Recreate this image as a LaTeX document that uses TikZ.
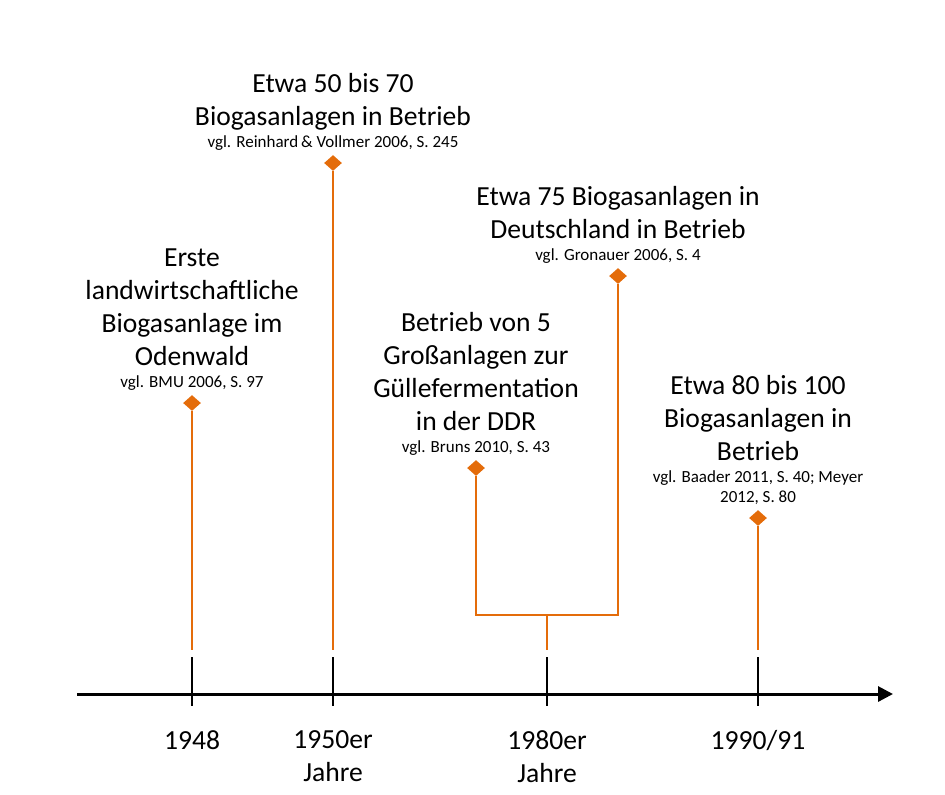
\documentclass[tikz,border=0pt]{standalone}
\usepackage{fontspec}
\setmainfont{Carlito}
\usetikzlibrary{positioning,shapes.geometric,arrows.meta}
\definecolor{gasorange}{RGB}{228,108,10}
\tikzset{
  dia/.style={diamond,fill=gasorange,inner sep=0pt,minimum width=9pt,minimum height=8pt},
  stem/.style={draw=gasorange,line width=1.2pt},
  txt/.style={align=center,inner sep=0pt,text depth=0pt,font=\fontsize{13.8}{16.5}\selectfont},
  src/.style={align=center,inner sep=0pt,text depth=0pt,font=\fontsize{8.5}{10}\selectfont},
}

\begin{document}
\begin{tikzpicture}[x=0.5pt,y=-0.5pt]
  \useasboundingbox (0,0) rectangle (945,794);
  % time axis
  \coordinate (A-0) at (77,694);
  \coordinate (A-1) at (893,694);
  \draw[line width=1.5pt,-{Triangle[length=7.5pt,width=7.5pt]}] (A-0) -- (A-1);
  \foreach \x/\n in {192/1,333/2,547/3,758/4}{
      \coordinate (T-\n) at (\x,657);
      \coordinate (B-\n) at (\x,706);
      \coordinate (E-\n) at (\x,650);
      \draw[line width=1pt] (T-\n) -- (B-\n);
    }
  \node[txt,below=12pt of B-1] (Y-1) {1948};
  \node[txt,below=12pt of B-2] (Y-2) {1950er\\Jahre};
  \node[txt,below=12pt of B-3] (Y-3) {1980er\\Jahre};
  \node[txt,below=12pt of B-4] (Y-4) {1990/91};

  % events
  \node[dia] (D-1) at (192,403) {};
  \node[dia] (D-2) at (333,163) {};
  \node[dia] (D-3) at (476,468) {};
  \node[dia] (D-4) at (618,276) {};
  \node[dia] (D-5) at (758,518) {};
  \node[src,above=3.5pt of D-1] (S-1) {vgl. BMU 2006, S. 97};
  \node[src,above=3.5pt of D-2] (S-2) {vgl. Reinhard\,\& Vollmer 2006, S. 245};
  \node[src,above=3.5pt of D-3] (S-3) {vgl. Bruns 2010, S. 43};
  \node[src,above=3.5pt of D-4] (S-4) {vgl. Gronauer 2006, S. 4};
  \node[src,above=3.5pt of D-5] (S-5) {vgl. Baader 2011, S. 40; Meyer\\2012, S. 80};
  \node[txt,above=4.5pt of S-1] (L-1) {Erste\\landwirtschaftliche\\Biogasanlage im\\Odenwald};
  \node[txt,above=4.5pt of S-2] (L-2) {Etwa 50 bis 70\\Biogasanlagen in Betrieb};
  \node[txt,above=4.5pt of S-3] (L-3) {Betrieb von 5\\Großanlagen zur\\Güllefermentation\\in der DDR};
  \node[txt,above=4.5pt of S-4] (L-4) {Etwa 75 Biogasanlagen in\\Deutschland in Betrieb};
  \node[txt,above=4.5pt of S-5] (L-5) {Etwa 80 bis 100\\Biogasanlagen in\\Betrieb};

  % stems
  \coordinate (K) at (547,615);
  \draw[stem] (D-1) -- (E-1);
  \draw[stem] (D-2) -- (E-2);
  \draw[stem] (D-3) |- (K) -| (D-4);
  \draw[stem] (K) -- (E-3);
  \draw[stem] (D-5) -- (E-4);
\end{tikzpicture}
\end{document}
